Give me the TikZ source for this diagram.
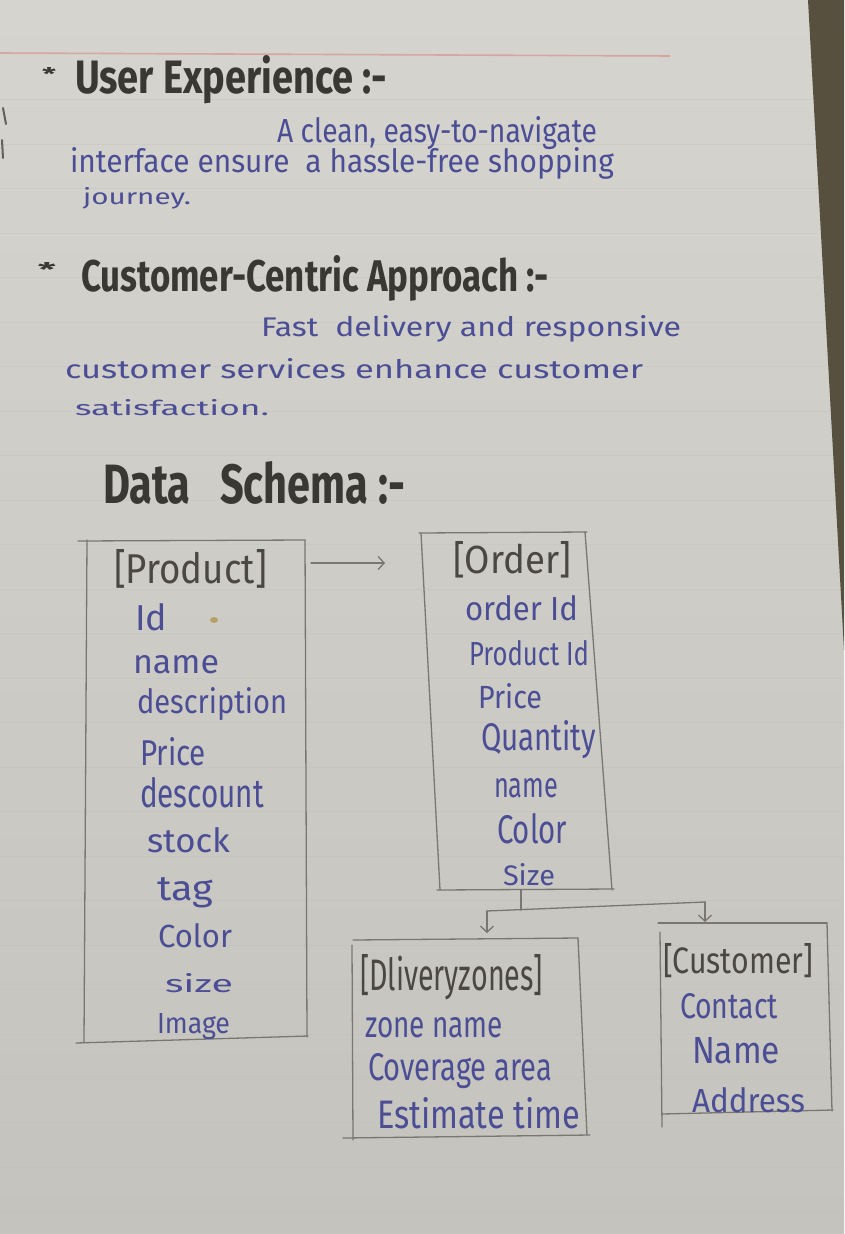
\documentclass[tikz,border=0pt]{standalone}
\usepackage{fontspec}
\usepackage{graphicx}
\usetikzlibrary{arrows.meta}

% handwriting stand-ins
\newfontfamily\inkfont[FakeStretch=0.85]{Fira Sans}
\newfontfamily\headfont[FakeStretch=0.7]{Fira Sans}
% scale a piece of text to a given width and height (above the baseline)
\newcommand{\fitto}[3]{\resizebox{#1pt}{#2pt}{#3}}

\definecolor{papertop}{HTML}{D5D4CF}
\definecolor{paperbottom}{HTML}{C4C3BD}
\definecolor{deskbrown}{HTML}{57503F}
\definecolor{inkblue}{HTML}{4B4E94}
\definecolor{marker}{HTML}{3A3834}
\definecolor{pencilgrey}{HTML}{4B4843}
\definecolor{boxgrey}{HTML}{7A7771}
\definecolor{ruleblue}{HTML}{B9BCC2}
\definecolor{marginred}{HTML}{D6A6A4}
\definecolor{stain}{HTML}{B3A167}

\begin{document}
\begin{tikzpicture}[x=1pt,y=-1pt,
  txt/.style={anchor=base west, inner sep=0pt, outer sep=0pt},
  ink/.style={txt, text=inkblue, font=\inkfont},
  pencil/.style={txt, text=pencilgrey, font=\inkfont},
  heading/.style={txt, text=marker, font=\headfont\bfseries},
  bullet/.style={anchor=center, inner sep=0pt, text=marker, font=\headfont\bfseries},
  boxline/.style={draw=boxgrey, line width=1.3pt, line cap=round},
  connector/.style={draw=boxgrey, line width=1.3pt, line cap=round},
  barbtip/.style={-{Straight Barb[length=6pt,width=13pt,line width=1.3pt]}}
]
\useasboundingbox (0,0) rectangle (844,1234);

% notebook paper
\fill[top color=papertop, bottom color=paperbottom] (0,0) rectangle (844,1234);
\foreach \k in {1,...,26}
  \draw[ruleblue, line width=0.6pt, opacity=0.28] (0,{55+44.5*\k}) -- (844,{55+44.5*\k});
\draw[marginred, line width=1.6pt] (0,53) -- (670,56);
% desk showing past the page edge
\fill[deskbrown] (808,0) -- (844,0) -- (844,650) -- cycle;
% marks along the left edge
\draw[marker!80, line width=2pt, line cap=round] (3,108) -- (6,124);
\draw[marker!80, line width=2pt, line cap=round] (2,140) -- (3,158);

% ---- User Experience ----
\node[bullet] (b1) at (49,74) {\fitto{14}{13}{*}};
\node[heading] (uxTitle) at (75,93) {\fitto{312}{38}{User Experience :-}};
\node[ink] (ux1) at (277,142) {\fitto{320}{26}{A clean, easy-to-navigate}};
\node[ink] (ux2) at (70,172) {\fitto{544}{25}{interface ensure\ \ a hassle-free shopping}};
\node[ink] (ux3) at (83,204) {\fitto{108}{17}{journey.}};

% ---- Customer-Centric Approach ----
\node[bullet] (b2) at (47,269) {\fitto{18}{14}{*}};
\node[heading] (ccTitle) at (81,291) {\fitto{468}{36}{Customer-Centric Approach :-}};
\node[ink] (cc1) at (261,336) {\fitto{420}{21}{Fast\ \ delivery and responsive}};
\node[ink] (cc2) at (65,378) {\fitto{578}{20}{customer services enhance customer}};
\node[ink] (cc3) at (75,415) {\fitto{194}{16}{satisfaction.}};

% ---- Data Schema ----
\node[heading] (dsTitle) at (103,503) {\fitto{302}{42}{Data\ \ \ Schema :-}};

% Product table
\coordinate (pTL) at (87,540);
\coordinate (pTR) at (305,540);
\coordinate (pBL) at (84,1042);
\coordinate (pBR) at (307,1037);
\draw[boxline] (78,541) -- (pTR);
\draw[boxline] (pTL) -- (pBL);
\draw[boxline] (pTR) -- (pBR);
\draw[boxline] (76,1043) -- (308,1036);
\node[pencil] (pHead) at (114,583) {\fitto{153}{34}{[Product]}};
\node[ink] (p1) at (135,630) {\fitto{32}{27}{Id}};
\node[ink] (p2) at (133,673) {\fitto{86}{18}{name}};
\node[ink] (p3) at (137,713) {\fitto{150}{26}{description}};
\node[ink] (p4) at (140,765) {\fitto{66}{28}{Price}};
\node[ink] (p5) at (140,807) {\fitto{124}{30}{descount}};
\node[ink] (p6) at (147,852) {\fitto{83}{25}{stock}};
\node[ink] (p7) at (157,900) {\fitto{56}{23}{tag}};
\node[ink] (p8) at (158,947) {\fitto{74}{24}{Color}};
\node[ink] (p9) at (165,992) {\fitto{68}{19}{size}};
\node[ink] (p10) at (157,1033) {\fitto{73}{20}{Image}};
\fill[stain] (214,620) ellipse (4 and 3);

% Order table
\coordinate (oTL) at (421,533);
\coordinate (oTR) at (585,532);
\coordinate (oBL) at (440,890);
\coordinate (oBR) at (612,890);
\draw[boxline] (419,533) -- (587,532);
\draw[boxline] (oTL) -- (oBL);
\draw[boxline] (oTR) -- (oBR);
\draw[boxline] (437,890) -- (614,889);
\node[pencil] (oHead) at (453,573) {\fitto{118}{32}{[Order]}};
\node[ink] (o1) at (465,620) {\fitto{113}{25}{order Id}};
\node[ink] (o2) at (469,665) {\fitto{120}{25}{Product Id}};
\node[ink] (o3) at (478,708) {\fitto{64}{25}{Price}};
\node[ink] (o4) at (481,750) {\fitto{115}{30}{Quantity}};
\node[ink] (o5) at (494,797) {\fitto{64}{19}{name}};
\node[ink] (o6) at (497,843) {\fitto{70}{30}{Color}};
\node[ink] (o7) at (503,885) {\fitto{52}{22}{Size}};

% Delivery zones table
\coordinate (dTL) at (353,940);
\coordinate (dTR) at (578,938);
\coordinate (dBL) at (353,1140);
\coordinate (dBR) at (587,1135);
\draw[boxline] (dTL) -- (dTR);
\draw[boxline] (352,945) -- (dBL);
\draw[boxline] (dTR) -- (dBR);
\draw[boxline] (343,1138) -- (590,1135);
\node[pencil] (dHead) at (360,990) {\fitto{183}{36}{[Dliveryzones]}};
\node[ink] (d1) at (365,1037) {\fitto{138}{20}{zone name}};
\node[ink] (d2) at (368,1080) {\fitto{184}{27}{Coverage area}};
\node[ink] (d3) at (377,1128) {\fitto{203}{31}{Estimate time}};

% Customer table
\coordinate (cTL) at (658,923);
\coordinate (cTR) at (827,923);
\coordinate (cBL) at (662,1127);
\coordinate (cBR) at (832,1111);
\draw[boxline] (cTL) -- (cTR);
\draw[boxline] (660,932) -- (cBL);
\draw[boxline] (cTR) -- (cBR);
\draw[boxline] (662,1114) -- (833,1110);
\node[pencil] (cHead) at (663,973) {\fitto{150}{30}{[Customer]}};
\node[ink] (c1) at (680,1018) {\fitto{98}{25}{Contact}};
\node[ink] (c2) at (692,1063) {\fitto{88}{26}{Name}};
\node[ink] (c3) at (692,1112) {\fitto{113}{25}{Address}};

% relations
\coordinate (pOut) at (385,563);
\draw[connector, barbtip] (pTR |- pOut) ++(6,0) -- (pOut);
\coordinate (split) at (521,910);
\coordinate (fanL) at (487,911);
\coordinate (fanR) at (705,902);
\coordinate (dIn) at (487,933);
\coordinate (cIn) at (705,922);
\draw[connector] (split |- oBL) -- (split);
\draw[connector] (fanL) -- (fanR);
\draw[connector, barbtip] (fanL) -- (dIn);
\draw[connector, barbtip] (fanR) -- (cIn);
\end{tikzpicture}
\end{document}
